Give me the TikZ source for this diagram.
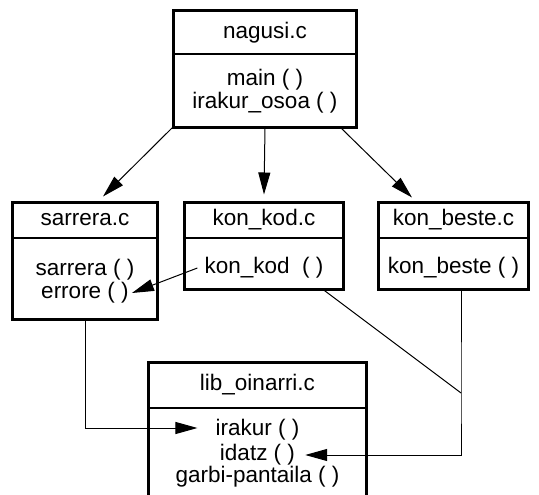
\documentclass[tikz,border=0pt]{standalone}
\usepackage{fontspec}
\setmainfont{Liberation Sans}
\usetikzlibrary{positioning,arrows.meta}
\begin{document}
\begin{tikzpicture}[x=1pt, y=-1pt, font=\fontsize{22.5}{24}\selectfont,
    hd/.style={draw, line width=1pt, inner sep=0pt},
    bd/.style={draw, line width=1pt, inner sep=0pt, below=0pt of #1},
    frame/.style={line width=3pt},
    fn/.style={inner sep=3pt},
    link/.style={line width=1pt, -{Triangle[length=22pt, width=12pt]}}]
      \useasboundingbox (0,0) rectangle (539,495);

      \node[hd, minimum width=182, minimum height=43] (nagusi) at (265,32.5) {nagusi.c};
      \node[bd=nagusi, minimum width=182, minimum height=72] (nagusibd) {};
      \draw[frame] (nagusi.north west) rectangle (nagusibd.south east);
      \node[fn] (main) at (265,80) {main ( )};
      \node[fn] (irakurosoa) at (265,103) {irakur\_osoa ( )};

      \node[hd, minimum width=144, minimum height=34] (sarrera) at (85,220) {sarrera.c};
      \node[bd=sarrera, minimum width=144, minimum height=81] (sarrerabd) {};
      \draw[frame] (sarrera.north west) rectangle (sarrerabd.south east);
      \node[fn] (sarrerafn) at (85,270) {sarrera ( )};
      \node[fn] (errore) at (85,293) {errore ( )};

      \node[hd, minimum width=158, minimum height=34] (konkod) at (264,220) {kon\_kod.c};
      \node[bd=konkod, minimum width=158, minimum height=51] (konkodbd) {};
      \draw[frame] (konkod.north west) rectangle (konkodbd.south east);
      \node[fn] (konkodfn) at (264,268) {kon\_kod\ \ ( )};

      \node[hd, minimum width=149, minimum height=34] (konbeste) at (453.5,220) {kon\_beste.c};
      \node[bd=konbeste, minimum width=149, minimum height=51] (konbestebd) {};
      \draw[frame] (konbeste.north west) rectangle (konbestebd.south east);
      \node[fn] (konbestefn) at (453.5,268) {kon\_beste ( )};

      \node[hd, minimum width=217, minimum height=44] (lib) at (257.5,385) {lib\_oinarri.c};
      \node[bd=lib, minimum width=217, minimum height=110] (libbd) {};
      \draw[frame] (lib.north west) rectangle (libbd.south east);
      \node[fn] (irakur) at (257.5,430) {irakur ( )};
      \node[fn] (idatz) at (257.5,455) {idatz ( )};
      \node[fn] (garbi) at (257.5,477) {garbi-pantaila ( )};

      \coordinate (jn) at (461,393);

      % deiak
      \draw[link] ([xshift=-1pt]nagusibd.south west) -- ([xshift=18pt, yshift=6pt]sarrera.north);
      \draw[link] (nagusibd.south) -- ([yshift=8pt]konkod.north);
      \draw[link] ([xshift=-16pt]nagusibd.south east) -- ([xshift=-41.5pt, yshift=5pt]konbeste.north);
      \draw[link] ([xshift=-4pt]konkodfn.west) -- (errore.east);
      \draw[link] (sarrerabd.south) |- ([xshift=-15pt, yshift=2pt]irakur.west);
      \draw[line width=1pt] ([xshift=59pt]konkodbd.south) -- (jn);
      \draw[link] ([xshift=7.5pt]konbestebd.south) -- (jn) |- ([xshift=7pt]idatz.east);
\end{tikzpicture}
\end{document}
